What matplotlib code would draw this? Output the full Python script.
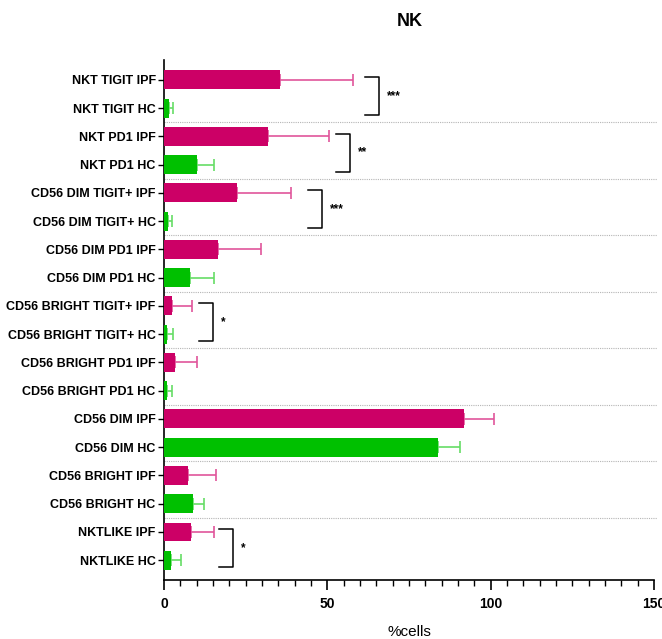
import matplotlib
matplotlib.use("Agg")
import matplotlib.pyplot as plt
from matplotlib.ticker import MultipleLocator

# rows from top to bottom
labels = [
    "NKT TIGIT IPF", "NKT TIGIT HC",
    "NKT PD1 IPF", "NKT PD1 HC",
    "CD56 DIM TIGIT+ IPF", "CD56 DIM TIGIT+ HC",
    "CD56 DIM PD1 IPF", "CD56 DIM PD1 HC",
    "CD56 BRIGHT TIGIT+ IPF", "CD56 BRIGHT TIGIT+ HC",
    "CD56 BRIGHT PD1 IPF", "CD56 BRIGHT PD1 HC",
    "CD56 DIM IPF", "CD56 DIM HC",
    "CD56 BRIGHT IPF", "CD56 BRIGHT HC",
    "NKTLIKE IPF", "NKTLIKE HC",
]
means = [35.5, 1.5, 31.8, 10.0, 22.3, 1.3, 16.5, 8.0, 2.5, 0.8,
         3.4, 1.0, 91.8, 83.9, 7.3, 8.9, 8.3, 2.1]
sd = [22.5, 1.3, 18.7, 5.3, 16.7, 1.2, 13.2, 7.3, 6.1, 2.0,
      6.6, 1.5, 9.2, 6.7, 8.6, 3.3, 7.0, 3.1]
groups = ["IPF", "HC"] * 9

# significance brackets: ipf row, stars, x of the bracket
sig_rows = [0, 2, 4, 8, 16]
sig_text = ["***", "**", "***", "*", "*"]
sig_x = [65.8, 56.9, 48.4, 15.0, 21.1]

bar_col = {"IPF": "#cc0066", "HC": "#00c000"}
err_col = {"IPF": "#e0559b", "HC": "#66dd66"}

plt.rcParams["font.family"] = ["Liberation Sans", "DejaVu Sans"]
plt.rcParams["font.weight"] = "bold"

fig = plt.figure(figsize=(6.62, 6.39), dpi=100)
ax = fig.add_axes([0.2477, 0.0923, 0.7403, 0.8137])

ypos = list(range(len(labels)))
for y, m, s, g in zip(ypos, means, sd, groups):
    ax.barh(y, m, height=0.67, color=bar_col[g], zorder=3)
    ax.errorbar(m, y, xerr=[[0], [s]], color=err_col[g], lw=1.2,
                capsize=4, capthick=1.2, zorder=2)

# dotted separators between the pairs
for k in range(1, 9):
    ax.plot([0, 151], [2 * k - 0.5] * 2, ls=(0, (1, 1)), color="#b5b5b5",
            lw=0.8, clip_on=False, zorder=1)

for r, t, bx in zip(sig_rows, sig_text, sig_x):
    y0, y1 = r - 0.1, r + 1.25
    ax.plot([bx - 4.2, bx, bx, bx - 4.2], [y0, y0, y1, y1], color="black",
            lw=1.1, zorder=4)
    ax.text(bx + 2.5, (y0 + y1) / 2, t, fontsize=8.5, va="center", ha="left")

ax.set_xlim(0, 150)
ax.set_ylim(17.7, -0.7)
ax.set_yticks(ypos)
ax.set_yticklabels(labels, fontsize=9.0)
ax.xaxis.set_major_locator(MultipleLocator(50))
ax.xaxis.set_minor_locator(MultipleLocator(5))
ax.tick_params(axis="x", which="major", length=7, width=1.2, labelsize=10,
               pad=5)
ax.tick_params(axis="x", which="minor", length=4, width=1.0)
ax.tick_params(axis="y", length=4, width=1.0, pad=2)
for sp in ("top", "right"):
    ax.spines[sp].set_visible(False)
ax.spines["left"].set_linewidth(1.2)
ax.spines["bottom"].set_linewidth(1.2)

ax.set_xlabel("%cells", fontsize=11, labelpad=10)
fig.text(0.619, 0.966, "NK", fontsize=13, ha="center", va="center")

fig.savefig("out.png", dpi=100)
